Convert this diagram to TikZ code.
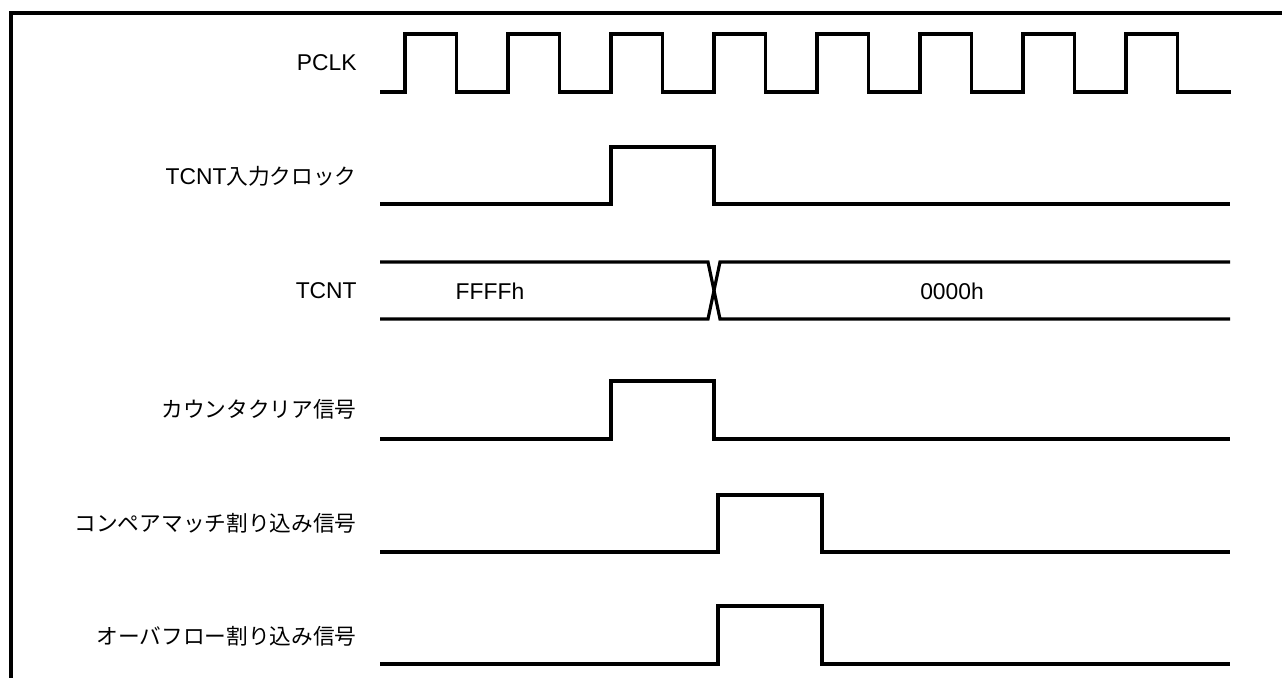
\documentclass[tikz,border=0pt]{standalone}
\usepackage{fontspec}
\setmainfont{Liberation Sans}
\newfontfamily\jpfont[Scale=0.95]{Noto Sans CJK JP}

\begin{document}
\begin{tikzpicture}[x=0.02cm,y=-0.02cm,
  sig/.style={line width=1.8pt,line join=miter},
  frm/.style={line width=2.3pt},
  lbl/.style={anchor=east,inner sep=0pt,font=\fontsize{13}{15}\selectfont},
  val/.style={inner sep=0pt,font=\fontsize{13}{15}\selectfont}]
  \def\clkper{103}
  \useasboundingbox (0,0) rectangle (1282,678);
  \draw[frm] (11,678) -- (11,13) -- (1282,13);
  % labels
  \node[lbl] (pclk) at (357,63) {PCLK};
  \node[lbl] (tcin) at (357,176) {TCNT{\jpfont 入力クロック}};
  \node[lbl] (tcnt) at (357,291) {TCNT};
  \node[lbl] (clr) at (357,409) {\jpfont カウンタクリア信号};
  \node[lbl] (cmi) at (357,523) {\jpfont コンペアマッチ割り込み信号};
  \node[lbl] (ovi) at (357,636) {\jpfont オーバフロー割り込み信号};
  % PCLK
  \draw[sig] (380,92) foreach \t in {0,...,7} {
    -- ({405+\clkper*\t},92) -- ({405+\clkper*\t},34)
    -- ({456.5+\clkper*\t},34) -- ({456.5+\clkper*\t},92) } -- (1231,92);
  % TCNT input clock
  \draw[sig] (380,204) -- (611,204) -- (611,147) -- (714,147) -- (714,204) -- (1230,204);
  % TCNT
  \draw[sig] (380,262) -- (708,262) -- (720,319) -- (1230,319);
  \draw[sig] (380,319) -- (708,319) -- (720,262) -- (1230,262);
  \node[val] (ffff) at (490,291) {FFFFh};
  \node[val] (zero) at (952,291) {0000h};
  % counter clear
  \draw[sig] (380,439) -- (611,439) -- (611,381) -- (714,381) -- (714,439) -- (1230,439);
  % compare match / overflow
  \draw[sig] (380,552) -- (718,552) -- (718,495) -- (822,495) -- (822,552) -- (1230,552);
  \draw[sig] (380,664) -- (718,664) -- (718,606) -- (822,606) -- (822,664) -- (1230,664);
\end{tikzpicture}
\end{document}
